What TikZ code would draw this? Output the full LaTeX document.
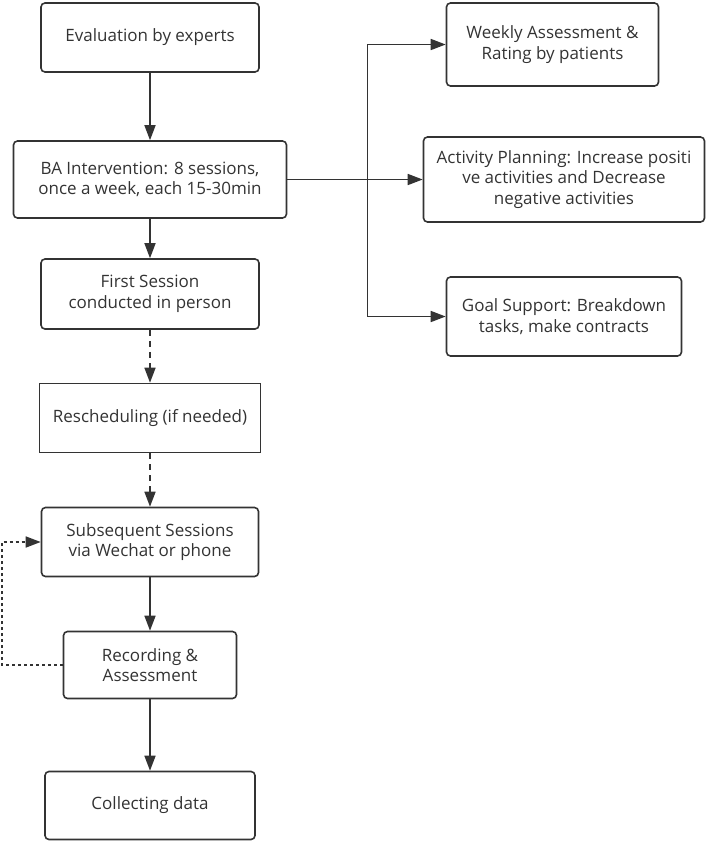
\documentclass[tikz,border=0pt]{standalone}
\usepackage{fontspec}
\setmainfont{Open Sans}
\usetikzlibrary{arrows.meta,positioning}
\definecolor{ink}{HTML}{333333}

\tikzset{
  box/.style={draw=ink,line width=1.6pt,rounded corners=4pt,align=center,
    text=ink,font=\fontsize{17}{20.5}\selectfont,inner sep=0pt},
  flat/.style={box,rounded corners=0pt},
  link/.style={->,draw=ink,line width=1.6pt},
  maybe/.style={link,dash pattern=on 6pt off 5pt},
  loop/.style={link,dash pattern=on 3pt off 3pt}
}

\begin{document}
\begin{tikzpicture}[>={Triangle[length=15pt,width=11pt]},node distance=124pt]
\useasboundingbox (0,0) rectangle (709pt,-844pt);

\node[box,minimum width=218pt,minimum height=69pt] (eval) at (150pt,-37.5pt) {Evaluation by experts};
 \node[box,minimum width=273pt,minimum height=77pt] (ba) [below of=eval,node distance=142pt] {BA Intervention: 8 sessions,\\once a week, each 15-30min};
 \node[box,minimum width=218pt,minimum height=70pt] (first) [below of=ba,node distance=114.5pt] {First Session\\conducted in person};
 \node[flat,minimum width=221pt,minimum height=69pt] (resched) [below of=first] {Rescheduling (if needed)};
 \node[box,minimum width=217pt,minimum height=69pt] (subseq) [below of=resched] {Subsequent Sessions\\via Wechat or phone};
 \node[box,minimum width=173pt,minimum height=67pt] (record) [below of=subseq,node distance=123pt] {Recording \&\\Assessment};
 \node[box,minimum width=210pt,minimum height=68pt] (collect) [below of=record,node distance=140.5pt] {Collecting data};

	% branches on the right
	\node[box,minimum width=281pt,minimum height=85pt] (plan) [right of=ba,node distance=414pt] {Activity Planning: Increase positi\\ve activities and Decrease\\negative activities};
	\node[box,minimum width=212pt,minimum height=83pt] (weekly) [above of=plan,node distance=135pt,xshift=-11.5pt] {Weekly Assessment \&\\Rating by patients};
	\node[box,minimum width=235pt,minimum height=79pt] (goal) [below of=plan,node distance=137pt] {Goal Support: Breakdown\\tasks, make contracts};

\coordinate (fork) at ([xshift=80pt]ba.east);

\draw[link] (eval) -- (ba);
\draw[link] (ba) -- (first);
\draw[maybe] (first) -- (resched);
\draw[maybe] (resched) -- (subseq);
\draw[link] (subseq) -- (record);
\draw[link] (record) -- (collect);

\draw[link] (ba) -- (plan);
\draw[link] (fork) |- (weekly);
\draw[link] (fork) |- (goal);

\coordinate (back) at ([xshift=-61pt]record.west);
\draw[loop] (record.west) -- (back) |- (subseq.west);

\end{tikzpicture}
\end{document}
